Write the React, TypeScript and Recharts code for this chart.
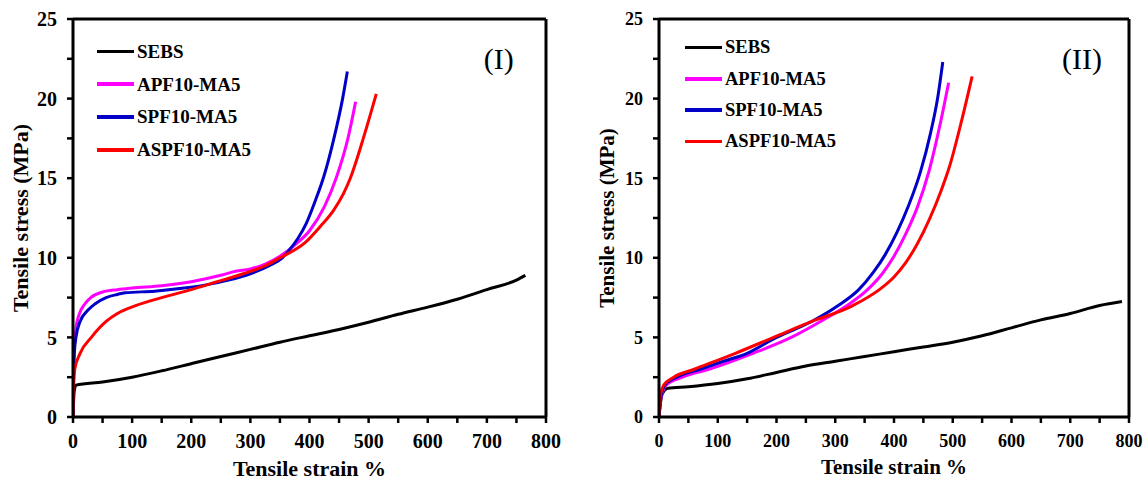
import React from 'react';
import {
  LineChart,
  Line,
  XAxis,
  YAxis,
  Legend,
  ReferenceLine,
  ReferenceDot,
  Label,
} from 'recharts';

// ---- Panel (I): stress–strain curves ----
const sebsStrainI = [0, 2, 5, 50, 100, 150, 200, 250, 300, 350, 400, 450, 500, 550, 600, 650, 700, 750, 765];
const sebsStressI = [0, 1.6, 2.0, 2.2, 2.5, 2.9, 3.35, 3.8, 4.25, 4.7, 5.1, 5.5, 5.95, 6.45, 6.9, 7.4, 8.0, 8.6, 8.9];

const apfStrainI = [0, 2, 5, 10, 20, 30, 50, 75, 100, 150, 200, 250, 275, 300, 325, 350, 375, 400, 425, 445, 465, 478];
const apfStressI = [0, 4.2, 5.6, 6.4, 7.1, 7.5, 7.85, 8.0, 8.1, 8.25, 8.5, 8.9, 9.15, 9.3, 9.6, 10.1, 10.8, 11.7, 13.2, 15.0, 17.5, 19.8];

const spfStrainI = [0, 2, 5, 12, 25, 37, 56, 75, 88, 138, 188, 225, 263, 300, 332, 354, 366, 380, 395, 410, 425, 440, 456, 464];
const spfStressI = [0, 3.8, 5.0, 6.0, 6.7, 7.1, 7.5, 7.7, 7.8, 7.9, 8.1, 8.3, 8.6, 9.0, 9.5, 10.0, 10.5, 11.2, 12.2, 13.6, 15.2, 17.3, 20.0, 21.7];

const aspfStrainI = [0, 1, 3, 12, 31, 56, 75, 106, 150, 200, 244, 288, 325, 350, 394, 419, 441, 457, 469, 491, 513];
const aspfStressI = [0, 2.0, 3.0, 4.0, 5.0, 6.0, 6.5, 7.0, 7.5, 8.0, 8.5, 9.0, 9.5, 10.0, 11.0, 12.0, 13.0, 14.0, 15.0, 17.5, 20.3];

// ---- Panel (II): stress–strain curves ----
const sebsStrainII = [0, 5, 15, 50, 100, 150, 200, 250, 300, 350, 400, 450, 500, 550, 600, 650, 700, 750, 788];
const sebsStressII = [0, 1.4, 1.8, 1.9, 2.1, 2.4, 2.8, 3.2, 3.5, 3.8, 4.1, 4.4, 4.7, 5.1, 5.6, 6.1, 6.5, 7.0, 7.25];

const apfStrainII = [0, 3, 12, 40, 85, 160, 225, 275, 320, 355, 380, 400, 420, 440, 460, 478, 493];
const apfStressII = [0, 1.1, 2.0, 2.5, 3.0, 4.0, 5.0, 6.0, 7.0, 8.0, 9.0, 10.1, 11.5, 13.2, 15.5, 18.3, 21.0];

const spfStrainII = [0, 3, 10, 30, 70, 110, 150, 200, 260, 305, 340, 365, 385, 405, 425, 445, 462, 475, 483];
const spfStressII = [0, 1.2, 2.0, 2.5, 3.0, 3.5, 4.0, 5.0, 6.0, 7.0, 8.0, 9.1, 10.2, 11.6, 13.3, 15.4, 17.8, 20.2, 22.3];

const aspfStrainII = [0, 2, 8, 25, 60, 130, 195, 260, 330, 375, 400, 420, 440, 460, 480, 495, 515, 533];
const aspfStressII = [0, 1.3, 2.0, 2.5, 3.0, 4.0, 5.0, 6.0, 7.0, 8.0, 8.8, 9.7, 10.9, 12.4, 14.2, 15.8, 18.6, 21.4];

// ---- Axes ----
const strainTicks = [0, 50, 100, 150, 200, 250, 300, 350, 400, 450, 500, 550, 600, 650, 700, 750, 800];
const stressTicks = [0, 2.5, 5, 7.5, 10, 12.5, 15, 17.5, 20, 22.5, 25];
const seriesNames = ['SEBS', 'APF10-MA5', 'SPF10-MA5', 'ASPF10-MA5'];
const seriesColors = ['#000000', '#ff00ff', '#0000c8', '#ff0000'];

const FONT = '"Liberation Serif", "Times New Roman", serif';

const zip = (xs: number[], ys: number[]) => xs.map((x, i) => ({ x, y: ys[i] }));

const panelI = [
  zip(sebsStrainI, sebsStressI),
  zip(apfStrainI, apfStressI),
  zip(spfStrainI, spfStressI),
  zip(aspfStrainI, aspfStressI),
];
const panelII = [
  zip(sebsStrainII, sebsStressII),
  zip(apfStrainII, apfStressII),
  zip(spfStrainII, spfStressII),
  zip(aspfStrainII, aspfStressII),
];

type PanelProps = {
  series: { x: number; y: number }[][];
  width: number;
  left: number;
  yAxisWidth: number;
  rightMargin: number;
  tickFont: number;
  titleFont: number;
  legendFont: number;
  legendLeft: number;
  legendTop: number;
  legendRow: number;
  yTitleDx: number;
  xTitleDy: number;
  tag: string;
};

const makeLegend = (fontSize: number, rowH: number) => () => (
  <div style={{ fontFamily: FONT, fontWeight: 'bold', fontSize, color: '#000' }}>
    {seriesNames.map((name, i) => (
      <div key={name} style={{ display: 'flex', alignItems: 'center', height: rowH }}>
        <span style={{ display: 'inline-block', width: 37, height: 3.5, background: seriesColors[i] }} />
        <span style={{ marginLeft: 3, lineHeight: 1 }}>{name}</span>
      </div>
    ))}
  </div>
);

function Panel(p: PanelProps) {
  const tickStyle = { fontFamily: FONT, fontWeight: 'bold', fontSize: p.tickFont, fill: '#000' };
  return (
    <div style={{ position: 'absolute', left: p.left, top: 0 }}>
      <LineChart
        width={p.width}
        height={481}
        margin={{ top: 19, right: p.rightMargin, bottom: 0, left: 0 }}
      >
        <XAxis
          dataKey="x"
          type="number"
          domain={[0, 800]}
          ticks={strainTicks}
          interval={0}
          tickFormatter={(v: number) => (v % 100 === 0 ? String(v) : '')}
          height={64}
          axisLine={{ stroke: '#000', strokeWidth: 3 }}
          tickLine={{ stroke: '#000', strokeWidth: 2.5 }}
          tickSize={6}
          tickMargin={11}
          tick={tickStyle}
          allowDataOverflow
        >
          <Label
            value="Tensile strain %"
            position="center"
            dy={p.xTitleDy}
            style={{ fontFamily: FONT, fontWeight: 'bold', fontSize: p.titleFont, fill: '#000' }}
          />
        </XAxis>
        <YAxis
          type="number"
          domain={[0, 25]}
          ticks={stressTicks}
          interval={0}
          tickFormatter={(v: number) => (v % 5 === 0 ? String(v) : '')}
          width={p.yAxisWidth}
          axisLine={{ stroke: '#000', strokeWidth: 3 }}
          tickLine={{ stroke: '#000', strokeWidth: 2.5 }}
          tickSize={6}
          tickMargin={10}
          tick={tickStyle}
          allowDataOverflow
        >
          <Label
            value="Tensile stress (MPa)"
            position="center"
            angle={-90}
            dx={p.yTitleDx}
            style={{ fontFamily: FONT, fontWeight: 'bold', fontSize: p.titleFont, fill: '#000', textAnchor: 'middle' }}
          />
        </YAxis>
        <ReferenceLine y={25} stroke="#000" strokeWidth={3} />
        <ReferenceLine x={800} stroke="#000" strokeWidth={3} />
        {p.series.map((d, i) => (
          <Line
            key={seriesNames[i]}
            data={d}
            dataKey="y"
            name={seriesNames[i]}
            type="monotone"
            stroke={seriesColors[i]}
            strokeWidth={3}
            dot={false}
            activeDot={false}
            isAnimationActive={false}
          />
        ))}
        <ReferenceDot x={720} y={22.5} r={0} fill="none" stroke="none">
          <Label
            value={p.tag}
            position="center"
            style={{ fontFamily: FONT, fontSize: 30, fill: '#000' }}
          />
        </ReferenceDot>
        <Legend
          layout="vertical"
          align="center"
          verticalAlign="middle"
          content={makeLegend(p.legendFont, p.legendRow)}
          wrapperStyle={{ left: p.legendLeft, top: p.legendTop, width: 'auto' }}
        />
      </LineChart>
    </div>
  );
}

export default function App() {
  return (
    <div style={{ position: 'absolute', left: 0, top: 0, width: 1146, height: 481, background: '#fff' }}>
      <Panel
        series={panelI}
        width={580}
        left={0}
        yAxisWidth={73}
        rightMargin={34}
        tickFont={20}
        titleFont={22}
        legendFont={19}
        legendLeft={97}
        legendTop={35}
        legendRow={32.8}
        yTitleDx={-16.5}
        xTitleDy={19}
        tag="(I)"
      />
      <Panel
        series={panelII}
        width={566}
        left={580}
        yAxisWidth={79}
        rightMargin={17}
        tickFont={18}
        titleFont={21}
        legendFont={18.5}
        legendLeft={105}
        legendTop={32}
        legendRow={31.3}
        yTitleDx={-12.5}
        xTitleDy={18}
        tag="(II)"
      />
    </div>
  );
}
